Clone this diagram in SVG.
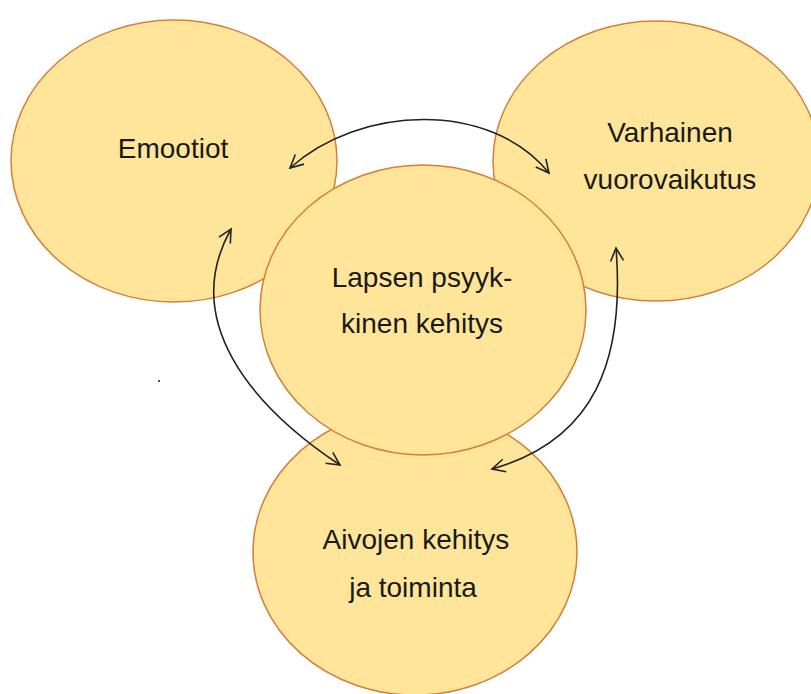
<svg xmlns="http://www.w3.org/2000/svg" width="811" height="694" viewBox="0 0 811 694">
<style>
.node{fill:#FFE599;stroke:#D4803A;stroke-width:1.5}
.lbl{font-family:"Liberation Sans",Arial,sans-serif;font-size:28px;fill:#1a1a1a;text-anchor:middle}
.conn{fill:none;stroke:#222;stroke-width:1.6}
</style>
<defs>
<marker id="arr" markerUnits="userSpaceOnUse" markerWidth="20" markerHeight="20" refX="0" refY="0" viewBox="-16 -10 20 20" orient="auto-start-reverse">
<path d="M-13,-6.5 L0,0 L-13,6.5" fill="none" stroke="#222" stroke-width="1.6"/>
</marker>
</defs>
<rect width="811" height="694" fill="#fff"/>
<g id="emootiot">
<ellipse class="node" cx="174" cy="161" rx="163" ry="141"/>
<text class="lbl" x="173" y="158">Emootiot</text>
</g>
<g id="varhainen">
<ellipse class="node" cx="656" cy="161" rx="163" ry="140"/>
<text class="lbl" x="670" y="142">Varhainen</text>
<text class="lbl" x="670" y="189">vuorovaikutus</text>
</g>
<g id="aivojen">
<ellipse class="node" cx="415" cy="552" rx="162" ry="143"/>
<text class="lbl" x="416" y="549">Aivojen kehitys</text>
<text class="lbl" x="413" y="597">ja toiminta</text>
</g>
<g id="lapsen">
<ellipse class="node" cx="423" cy="310" rx="163" ry="145"/>
<text class="lbl" x="422" y="287">Lapsen psyyk-</text>
<text class="lbl" x="422" y="333">kinen kehitys</text>
</g>
<g id="connectors">
<path class="conn" d="M290,168 C360,105 490,100 549,173" marker-start="url(#arr)" marker-end="url(#arr)"/>
<path class="conn" d="M231,229 C180,320 250,405 340,465" marker-start="url(#arr)" marker-end="url(#arr)"/>
<path class="conn" d="M616,248 C625,360 595,440 492,469" marker-start="url(#arr)" marker-end="url(#arr)"/>
</g>
<rect x="158" y="380" width="2" height="2" fill="#555"/>
</svg>
